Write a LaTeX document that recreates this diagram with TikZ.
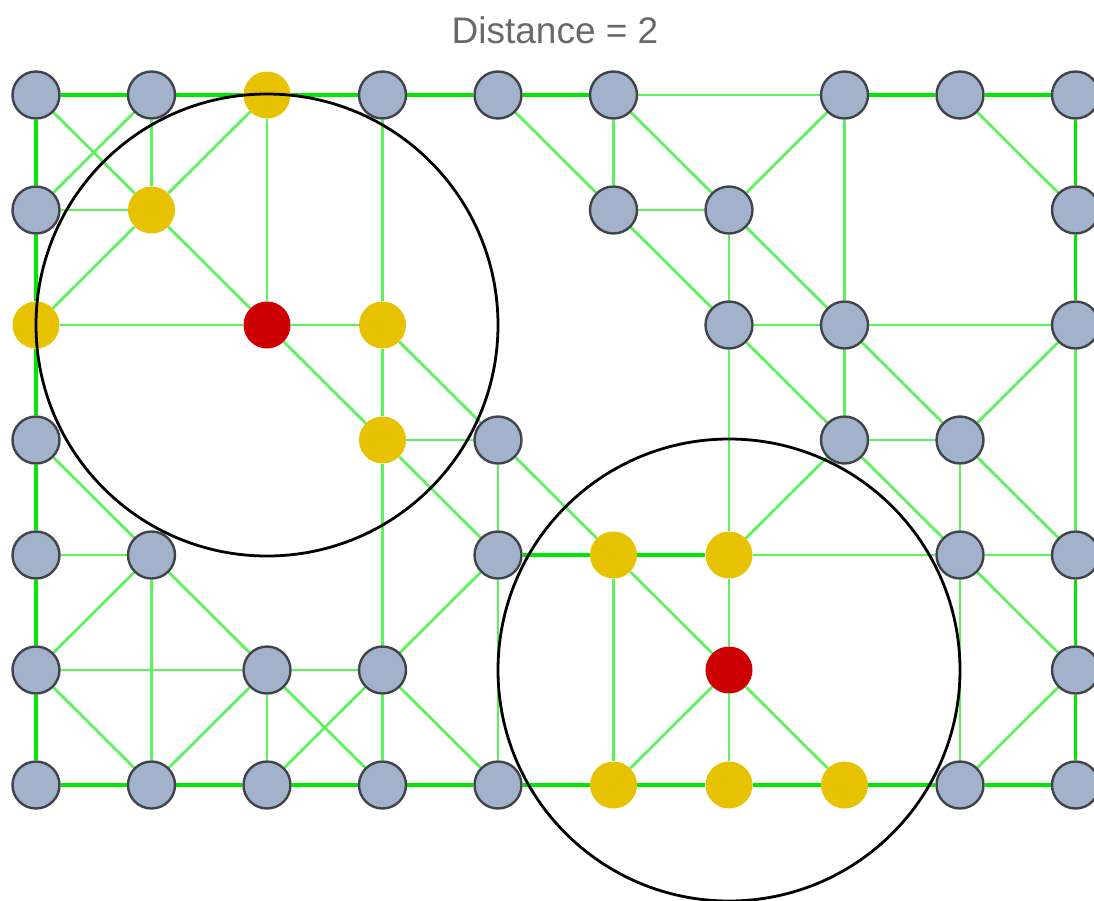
\documentclass[tikz,border=0pt]{standalone}
\usepackage{fontspec}
\setmainfont{Liberation Sans}
\pgfdeclarelayer{paper}
\pgfdeclarelayer{edges}
\pgfsetlayers{paper,edges,main}
\definecolor{nodegrey}{RGB}{162,178,202}
\definecolor{nodeedge}{RGB}{64,68,74}
\definecolor{hitgold}{RGB}{230,194,0}
\definecolor{centrered}{RGB}{204,0,0}
\definecolor{linkthin}{RGB}{92,242,92}
\definecolor{linkthick}{RGB}{0,232,0}
\definecolor{titlegrey}{RGB}{105,105,105}
\tikzset{
  vtx/.style={circle, minimum size=47pt, inner sep=0pt},
  plain/.style={vtx, fill=nodegrey, draw=nodeedge, line width=2.4pt},
  near/.style={vtx, fill=hitgold},
  centre/.style={vtx, fill=centrered},
  thinlink/.style={draw=linkthin, line width=2.7pt},
  thicklink/.style={draw=linkthick, line width=3.6pt},
  ball/.style={draw=black, line width=2.8pt}
}
\begin{document}
\begin{tikzpicture}[x=1pt,y=-1pt]
\useasboundingbox (0,0) rectangle (1094,900);
\begin{pgfonlayer}{paper}
\fill[white] (0,0) rectangle (1094,900);
\end{pgfonlayer}

\node[text=titlegrey, font=\fontsize{37}{44}\selectfont] (title) at (555,30) {Distance = 2};

% lattice positions: column c at 36+115.5c, row r at 95+115r
\foreach \c/\r/\s in {
  0/0/plain,1/0/plain,2/0/near,3/0/plain,4/0/plain,5/0/plain,7/0/plain,8/0/plain,9/0/plain,
  0/1/plain,1/1/near,5/1/plain,6/1/plain,9/1/plain,
  0/2/near,2/2/centre,3/2/near,6/2/plain,7/2/plain,9/2/plain,
  0/3/plain,3/3/near,4/3/plain,7/3/plain,8/3/plain,
  0/4/plain,1/4/plain,4/4/plain,5/4/near,6/4/near,8/4/plain,9/4/plain,
  0/5/plain,2/5/plain,3/5/plain,6/5/centre,9/5/plain,
  0/6/plain,1/6/plain,2/6/plain,3/6/plain,4/6/plain,5/6/near,6/6/near,7/6/near,8/6/plain,9/6/plain}
  \node[\s] (n\c\r) at ({36+115.5*\c},{95+115*\r}) {};

\begin{pgfonlayer}{edges}
% border links between neighbouring sites
\foreach \a/\b in {n00/n10,n10/n20,n20/n30,n30/n40,n40/n50,n70/n80,n80/n90,
  n00/n01,n01/n02,n02/n03,n03/n04,n04/n05,n05/n06,
  n06/n16,n16/n26,n26/n36,n36/n46,n46/n56,n56/n66,n66/n76,n76/n86,n86/n96,
  n90/n91,n91/n92,n94/n95,n95/n96,n44/n54,n54/n64}
  \draw[thicklink] (\a) -- (\b);
% remaining links
\foreach \a/\b in {n50/n70,
  n00/n11,n10/n01,n10/n11,n20/n11,n20/n22,n30/n32,n01/n11,n11/n22,n11/n02,
  n02/n22,n22/n32,n22/n33,n32/n43,n32/n33,
  n40/n51,n50/n51,n50/n61,n51/n61,n51/n62,n61/n62,
  n70/n61,n70/n72,n80/n91,n61/n72,n62/n72,n72/n92,
  n62/n64,n62/n73,n72/n73,n72/n83,n92/n83,n92/n94,n73/n83,n73/n64,n73/n84,
  n83/n84,n83/n94,n64/n84,n84/n94,
  n64/n65,n65/n66,n65/n76,n84/n86,n84/n95,n95/n86,
  n44/n35,n44/n46,n35/n46,n33/n35,n35/n36,n54/n56,n54/n65,n65/n56,
  n33/n43,n33/n44,n43/n44,n43/n54,
  n03/n14,n04/n14,n14/n05,n14/n16,n14/n25,n05/n25,n05/n16,n25/n16,
  n25/n26,n25/n35,n25/n36,n35/n26}
  \draw[thinlink] (\a) -- (\b);
\end{pgfonlayer}

% neighbourhoods of radius two around the two centres
\draw[ball] (n22.center) circle[radius=231];
\draw[ball] (n65.center) circle[radius=231];
\end{tikzpicture}
\end{document}
